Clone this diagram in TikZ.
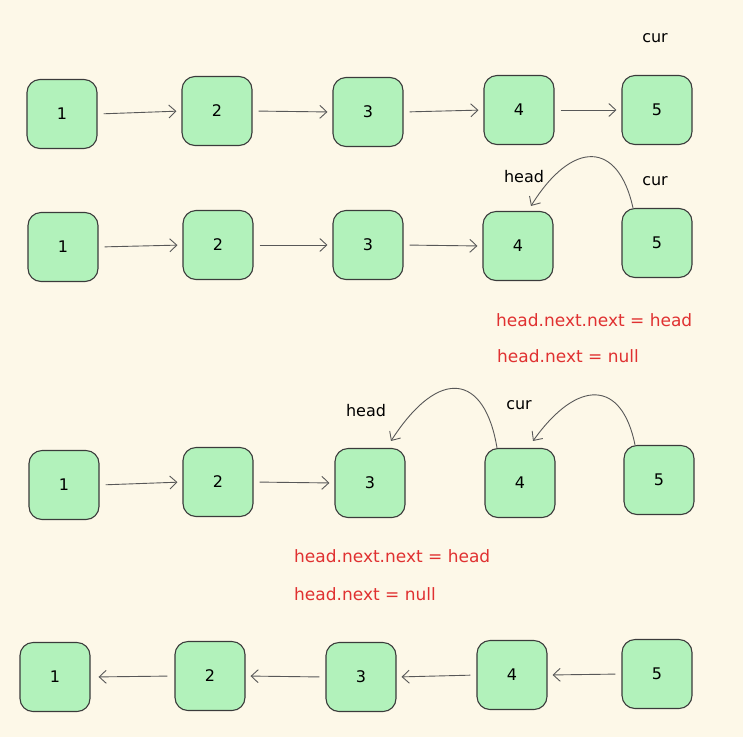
\documentclass[tikz,border=0pt]{standalone}
\usepackage{fontspec}
\setmainfont{DejaVu Sans}
\usetikzlibrary{arrows.meta}
\definecolor{paper}{HTML}{FDF8E8}
\definecolor{mint}{HTML}{B2F2BB}
\definecolor{ink}{HTML}{3B3B3B}
\definecolor{note}{HTML}{E03131}
\tikzset{
  box/.style={draw=ink, fill=mint, line width=1.1pt, rounded corners=13pt,
    minimum width=70pt, minimum height=69pt, inner sep=0pt,
    font=\fontsize{16}{18}\selectfont},
  link/.style={draw=ink!85, line width=0.9pt,
    -{Straight Barb[length=7pt,width=13pt]}, shorten <=6pt, shorten >=5pt},
  tag/.style={font=\fontsize{16}{18}\selectfont, inner sep=0pt},
  code/.style={inner sep=0pt, font=\fontsize{17}{19}\selectfont, text=note, anchor=west},
}
\begin{document}
\begin{tikzpicture}[x=1pt, y=-1pt]
\fill[paper] (0,0) rectangle (743,737);
\useasboundingbox (0,0) rectangle (743,737);
% first row
\node[box] (a1) at (62,114) {1};
\node[box] (a2) at (217,111) {2};
\node[box] (a3) at (368,112) {3};
\node[box] (a4) at (519,110) {4};
\node[box] (a5) at (657,110) {5};
\node[tag] (acur) at (655,38) {cur};
\draw[link] (a1.east) -- (a2.west);
\draw[link] (a2.east) -- (a3.west);
\draw[link] (a3.east) -- (a4.west);
\draw[link] (a4.east) -- (a5.west);
% second row
\node[box] (b1) at (63,247) {1};
\node[box] (b2) at (218,245) {2};
\node[box] (b3) at (368,245) {3};
\node[box] (b4) at (518,246) {4};
\node[box] (b5) at (657,243) {5};
\node[tag] (bhead) at (524,177) {head};
\node[tag] (bcur) at (655,181) {cur};
\draw[link] (b1.east) -- (b2.west);
\draw[link] (b2.east) -- (b3.west);
\draw[link] (b3.east) -- (b4.west);
\draw[link, shorten <=0pt, shorten >=0pt] ([xshift=-24pt]b5.north)
  .. controls (618,140) and (572,140) .. ([xshift=13pt,yshift=5pt]b4.north);
\node[code] (bnn) at (496,320) {head.next.next = head};
\node[code] (bnx) at (497,356) {head.next = null};
% third row
\node[box] (c1) at (64,485) {1};
\node[box] (c2) at (218,482) {2};
\node[box] (c3) at (370,483) {3};
\node[box] (c4) at (520,483) {4};
\node[box] (c5) at (659,480) {5};
\node[tag] (chead) at (366,411) {head};
\node[tag] (ccur) at (519,405) {cur};
\draw[link] (c1.east) -- (c2.west);
\draw[link] (c2.east) -- (c3.west);
\draw[link, shorten <=0pt, shorten >=0pt] ([xshift=-23pt]c4.north)
  .. controls (485,375) and (440,365) .. ([xshift=21pt,yshift=7pt]c3.north);
\draw[link, shorten <=0pt, shorten >=0pt] ([xshift=-24pt]c5.north)
  .. controls (622,380) and (578,378) .. ([xshift=13pt,yshift=7pt]c4.north);
\node[code] (cnn) at (294,556) {head.next.next = head};
\node[code] (cnx) at (294,594) {head.next = null};
% fourth row
\node[box] (d1) at (55,677) {1};
\node[box] (d2) at (210,676) {2};
\node[box] (d3) at (361,677) {3};
\node[box] (d4) at (512,675) {4};
\node[box] (d5) at (657,674) {5};
\draw[link, shorten <=7pt, shorten >=8pt] (d2.west) -- (d1.east);
\draw[link] (d3.west) -- (d2.east);
\draw[link] (d4.west) -- (d3.east);
\draw[link] (d5.west) -- (d4.east);
\end{tikzpicture}
\end{document}
